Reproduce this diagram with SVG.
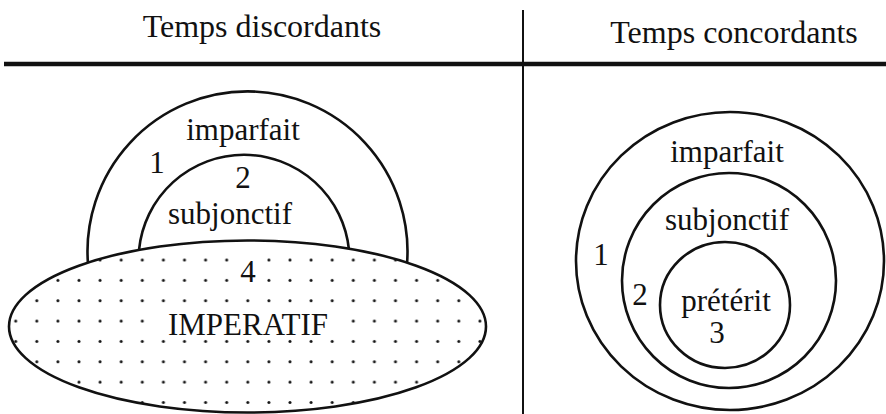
<svg xmlns="http://www.w3.org/2000/svg" width="886" height="414" viewBox="0 0 886 414">
<style>
  .t { font-family: "Liberation Serif", "Times New Roman", serif; font-size: 31px; fill: #111; text-anchor: middle; }
  .h { font-size: 32px; }
  .ln { fill: none; stroke: #111; stroke-width: 2.6; }
</style>
<defs>
  <pattern id="dots" patternUnits="userSpaceOnUse" x="5.15" y="249.83" width="21.1" height="20.35">
    <circle cx="10.55" cy="10.17" r="1.5" fill="#111"/>
  </pattern>
</defs>
<rect width="886" height="414" fill="#fff"/>
<g id="header">
  <line x1="4" y1="64" x2="886" y2="64" stroke="#111" stroke-width="4.5"/>
  <line x1="523" y1="10" x2="523" y2="414" stroke="#111" stroke-width="2"/>
  <text class="t h" x="262" y="37">Temps discordants</text>
  <text class="t h" x="734" y="43">Temps concordants</text>
</g>
<g id="left-imparfait">
  <path class="ln" d="M 88 264 A 160 160 0 1 1 407 264"/>
  <text class="t" x="243" y="140">imparfait</text>
  <text class="t" x="157" y="173">1</text>
</g>
<g id="left-subjonctif">
  <path class="ln" d="M 139 250 A 105.5 105.5 0 0 1 349 250"/>
  <text class="t" x="243" y="188">2</text>
  <text class="t" x="230" y="224">subjonctif</text>
</g>
<g id="imperatif">
  <ellipse cx="247.5" cy="326.5" rx="238.5" ry="86" fill="#fff"/>
  <ellipse cx="247.5" cy="326.5" rx="238.5" ry="86" fill="url(#dots)" stroke="#111" stroke-width="2.6"/>
  <rect x="238" y="252" width="20" height="34" fill="#fff"/>
  <rect x="155" y="312" width="186" height="20" fill="#fff"/>
  <text class="t" x="248" y="282">4</text>
  <text class="t" x="248" y="335" font-size="32">IMPERATIF</text>
</g>
<g id="right-imparfait">
  <ellipse class="ln" cx="730" cy="261" rx="154" ry="149"/>
  <text class="t" x="727" y="162">imparfait</text>
  <text class="t" x="601" y="265">1</text>
</g>
<g id="right-subjonctif">
  <ellipse class="ln" cx="729" cy="280.5" rx="107" ry="107.5"/>
  <text class="t" x="727" y="230">subjonctif</text>
  <text class="t" x="640" y="305">2</text>
</g>
<g id="right-preterit">
  <ellipse class="ln" cx="725" cy="305" rx="65" ry="63"/>
  <text class="t" x="726" y="311">prétérit</text>
  <text class="t" x="717" y="343">3</text>
</g>
<g id="connectors"></g>
</svg>
